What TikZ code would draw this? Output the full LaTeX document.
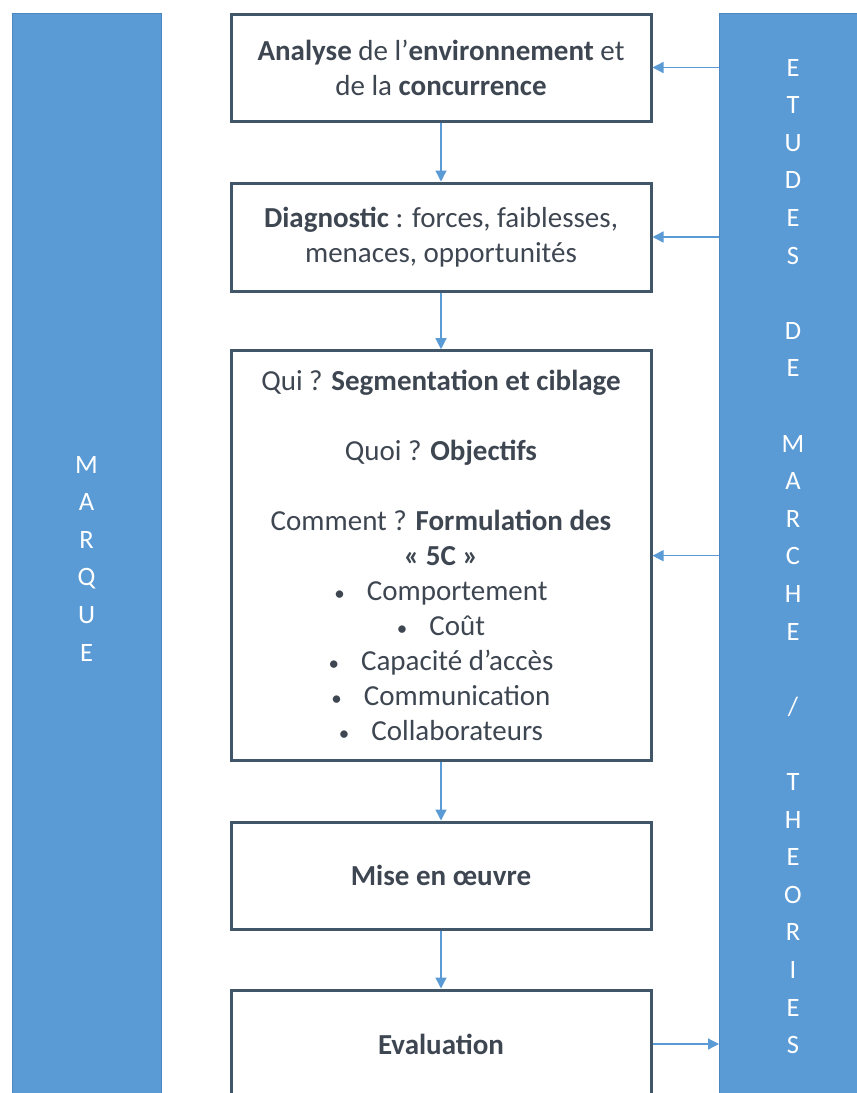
\documentclass[tikz,border=0pt]{standalone}
\usepackage{fontspec}
\setmainfont{Carlito}
\usetikzlibrary{arrows.meta}
\definecolor{barblue}{HTML}{5B9BD5}
\definecolor{barline}{HTML}{4A86BF}
\definecolor{boxline}{HTML}{425669}
\definecolor{txt}{HTML}{3E4651}
\definecolor{arr}{HTML}{5B9BD5}
\newcommand{\mybul}{{\fontsize{21}{21}\selectfont •}\hspace{22pt}}
\begin{document}
\begin{tikzpicture}[x=1pt,y=-1pt,
  box/.style={draw=boxline, line width=3pt, fill=white, minimum width=420pt,
    inner sep=0pt, align=center, text=txt, font=\fontsize{29}{35}\selectfont},
  bar/.style={draw=barline, line width=1pt, fill=barblue, minimum height=1100pt,
    inner sep=0pt, outer sep=0pt, anchor=north west},
  bartext/.style={text=white, align=center, font=\fontsize{26.5}{37.6}\selectfont},
  conn/.style={draw=arr, line width=1.3pt, -{Triangle[length=11pt,width=11pt]}}
]
\useasboundingbox (0,0) rectangle (857,1093);
\clip (0,0) rectangle (857,1093);
\fill[white] (0,0) rectangle (857,1093);

% side bars
\node[bar, minimum width=149pt] (lbar) at (12,13) {};
\node[bar, minimum width=160pt] (rbar) at (719,13) {};
\node[bartext] (marque) at (86.5,558.5) {M\\A\\R\\Q\\U\\E};
\node[bartext] (etudes) at (793,556.5) {E\\T\\U\\D\\E\\S\\\mbox{}\\D\\E\\\mbox{}\\M\\A\\R\\C\\H\\E\\\mbox{}\\/\\\mbox{}\\T\\H\\E\\O\\R\\I\\E\\S};

% boxes
\node[box, minimum height=107pt] (b1) at (441,67.5)
  {\textbf{Analyse} de l’\textbf{environnement} et\\de la \textbf{concurrence}};
\node[box, minimum height=108pt] (b2) at (441,237)
  {\textbf{Diagnostic} : forces, faiblesses,\\menaces, opportunités};
\node[box, minimum height=410pt] (b3) at (441,555.7)
  {Qui ? \textbf{Segmentation et ciblage}\\\mbox{}\\
   Quoi ? \textbf{Objectifs}\\\mbox{}\\
   Comment ? \textbf{Formulation des}\\\textbf{«~5C~»}\\
   \mybul Comportement\\
   \mybul Coût\\
   \mybul Capacité d’accès\\
   \mybul Communication\\
   \mybul Collaborateurs};
\node[box, minimum height=107pt] (b4) at (441,875.5) {\textbf{Mise en œuvre}};
\node[box, minimum height=108pt] (b5) at (441,1044) {\textbf{Evaluation}};

% vertical connectors
\draw[conn] (b1.south) -- (b2.north);
\draw[conn] (b2.south) -- (b3.north);
\draw[conn] (b3.south) -- (b4.north);
\draw[conn] (b4.south) -- (b5.north);

% horizontal connectors
\draw[conn] (rbar.west |- b1.east) -- (b1.east);
\draw[conn] (rbar.west |- b2.east) -- (b2.east);
\draw[conn] (rbar.west |- b3.east) -- (b3.east);
\draw[conn] (b5.east) -- (b5.east -| rbar.west);
\end{tikzpicture}
\end{document}
